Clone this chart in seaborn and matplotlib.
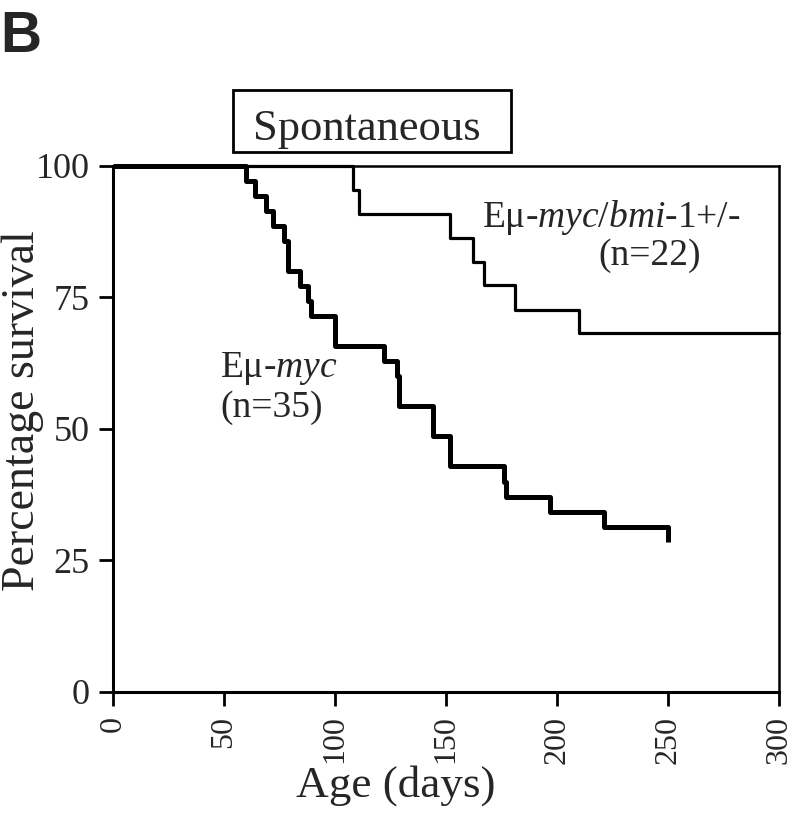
import matplotlib
matplotlib.use("Agg")
import matplotlib.pyplot as plt
from matplotlib.patches import Rectangle
import seaborn as sns
import pandas as pd

# Kaplan-Meier steps (day, % surviving after the drop)
myc_days = [0, 60, 64, 69, 72, 77, 79, 84, 88, 89, 100, 122, 128, 129,
            144, 152, 176, 177, 197, 221, 250]
myc_surv = [100, 97.1, 94.3, 91.4, 88.6, 85.7, 80.0, 77.1, 74.3, 71.4, 65.7,
            62.9, 60.0, 54.3, 48.6, 42.9, 40.0, 37.1, 34.3, 31.4, 28.6]

bmi_days = [0, 108, 111, 152, 162, 167, 181, 210, 300]
bmi_surv = [100, 95.5, 90.9, 86.4, 81.8, 77.3, 72.7, 68.2, 68.2]

x_ticks = [0, 50, 100, 150, 200, 250, 300]
y_ticks = [0, 25, 50, 75, 100]

sns.set_style("ticks")
plt.rcParams['font.family'] = ['Liberation Serif', 'DejaVu Serif']
plt.rcParams['mathtext.fontset'] = 'custom'
plt.rcParams['mathtext.rm'] = 'Liberation Serif'
plt.rcParams['mathtext.it'] = 'Liberation Serif:italic'

fig = plt.figure(figsize=(8, 8.14), dpi=100)
ax = fig.add_axes([0.1413, 0.1499, 0.8325, 0.6462])

myc = pd.DataFrame({'day': myc_days, 'surv': myc_surv})
bmi = pd.DataFrame({'day': bmi_days, 'surv': bmi_surv})

sns.lineplot(data=bmi, x='day', y='surv', ax=ax, color='black', lw=2.3,
             drawstyle='steps-post', estimator=None, sort=False, clip_on=False)
sns.lineplot(data=myc, x='day', y='surv', ax=ax, color='black', lw=3.6,
             drawstyle='steps-post', estimator=None, sort=False, clip_on=False,
             solid_capstyle='butt')

ax.set_xlim(0, 300)
ax.set_ylim(0, 100)
ax.set_xticks(x_ticks)
ax.set_yticks(y_ticks)
ax.set_xticklabels([str(t) for t in x_ticks], rotation=90, fontsize=23)
ax.set_yticklabels([str(t) for t in y_ticks], fontsize=26)
ax.tick_params(direction='out', length=10, width=2, color='black')
ax.tick_params(axis='x', pad=7)
ax.tick_params(axis='y', pad=7)
ax.set_xlabel('Age (days)', fontsize=32.5)
ax.set_ylabel('Percentage survival', fontsize=33)
ax.xaxis.set_label_coords(0.425, -0.138)
ax.yaxis.set_label_coords(-0.104, 0.534)

for side in ['left', 'bottom']:
    ax.spines[side].set_linewidth(2.2)
for side in ['top', 'right']:
    ax.spines[side].set_visible(True)
    ax.spines[side].set_linewidth(1.8)
for s in ax.spines.values():
    s.set_color('black')

ax.text(48.2, 59.9, 'E\u03bc-$\\mathit{myc}$', fontsize=27)
ax.text(48.2, 52.3, '(n=35)', fontsize=27)
ax.text(166.2, 88.4, 'E\u03bc-$\\mathit{myc/bmi}$-1+/-', fontsize=27)
ax.text(218.5, 81.2, '(n=22)', fontsize=27)

# title box
fig.patches.append(Rectangle((0.291, 0.8133), 0.3475, 0.0762, transform=fig.transFigure,
                             fill=False, edgecolor='black', lw=2))
fig.text(0.459, 0.828, 'Spontaneous', fontsize=32, ha='center', va='baseline')

fig.text(0.0, 0.936, 'B', fontsize=41, fontweight='bold', family='Liberation Sans',
         va='baseline')

fig.savefig('out.png', dpi=100)
